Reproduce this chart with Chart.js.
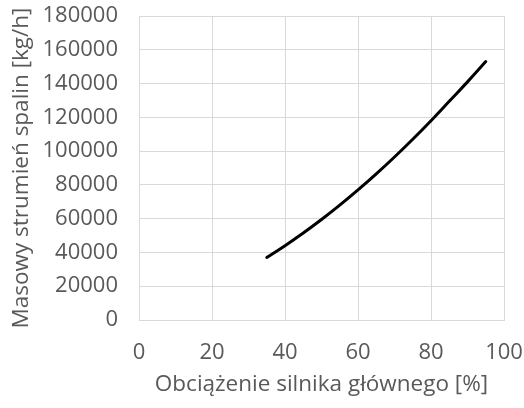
<!DOCTYPE html>
<html>
<head>
<meta charset="utf-8">
<script src="https://cdn.jsdelivr.net/npm/chart.js@4"></script>
<style>
  html, body { margin: 0; padding: 0; background: #ffffff; }
  #wrap { width: 524px; height: 408px; }
</style>
</head>
<body>
<div id="wrap"><canvas id="c" width="524" height="408"></canvas></div>
<script>
// Data
const loadPercent = [35, 40, 45, 50, 55, 60, 65, 70, 75, 80, 85, 90, 95];
const exhaustFlow = [37000, 44000, 51500, 59500, 68000, 77000, 86500, 96500, 107000, 118000, 129500, 141000, 153000];
const xTickValues = [0, 20, 40, 60, 80, 100];
const yTickValues = [0, 20000, 40000, 60000, 80000, 100000, 120000, 140000, 160000, 180000];
const xTitle = 'Obciążenie silnika głównego [%]';
const yTitle = 'Masowy strumień spalin [kg/h]';

const FONT = '"Open Sans", "Liberation Sans", sans-serif';
const TEXT = '#595959';
const GRID = '#d9d9d9';

new Chart(document.getElementById('c'), {
  type: 'scatter',
  data: {
    datasets: [{
      data: loadPercent.map((x, i) => ({ x: x, y: exhaustFlow[i] })),
      showLine: true,
      borderColor: '#000000',
      backgroundColor: '#000000',
      borderWidth: 3,
      pointRadius: 0,
      tension: 0.4,
      borderCapStyle: 'round'
    }]
  },
  options: {
    responsive: false,
    animation: false,
    devicePixelRatio: 1,
    layout: { padding: { top: 16, right: 20, bottom: 0, left: 0 } },
    plugins: { legend: { display: false }, tooltip: { enabled: false } },
    scales: {
      x: {
        type: 'linear',
        min: 0, max: 100,
        afterBuildTicks: s => { s.ticks = xTickValues.map(v => ({ value: v })); },
        afterFit: s => { s.height = 88; s.paddingLeft = 0; s.paddingRight = 0; },
        grid: { color: GRID, lineWidth: 1, drawTicks: false },
        border: { color: GRID, width: 1 },
        ticks: { color: TEXT, padding: 20, font: { family: FONT, size: 22 }, callback: v => String(v), maxRotation: 0 },
        title: { display: true, text: xTitle, color: TEXT, font: { family: FONT, size: 22.5 }, padding: { top: 0, bottom: 10 } }
      },
      y: {
        type: 'linear',
        min: 0, max: 180000,
        afterBuildTicks: s => { s.ticks = yTickValues.map(v => ({ value: v })); },
        afterFit: s => { s.width = 139; s.paddingTop = 0; s.paddingBottom = 0; },
        grid: { color: GRID, lineWidth: 1, drawTicks: false },
        border: { color: GRID, width: 1 },
        ticks: { color: TEXT, padding: 21, font: { family: FONT, size: 22 }, callback: v => String(v) },
        title: { display: true, text: yTitle, color: TEXT, font: { family: FONT, size: 22.5 }, padding: { top: 8, bottom: 0 } }
      }
    }
  },
  plugins: [{
    id: 'rightBorder',
    afterDraw(chart) {
      const a = chart.chartArea, ctx = chart.ctx;
      ctx.save();
      ctx.strokeStyle = GRID; ctx.lineWidth = 1;
      ctx.beginPath();
      ctx.moveTo(Math.round(a.right) + 0.5, a.top);
      ctx.lineTo(Math.round(a.right) + 0.5, a.bottom);
      ctx.stroke();
      ctx.restore();
    }
  }]
});
</script>
</body>
</html>
